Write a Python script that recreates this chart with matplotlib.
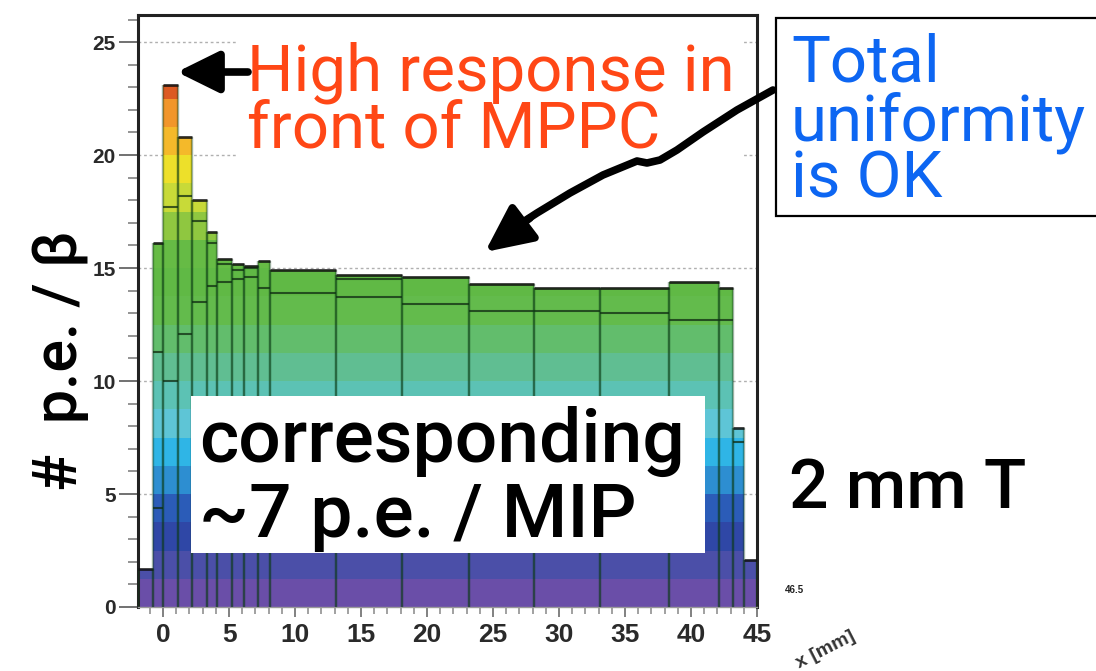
import matplotlib
matplotlib.use('Agg')
import matplotlib.pyplot as plt
from matplotlib.patches import Rectangle, FancyArrowPatch
from matplotlib.lines import Line2D
from matplotlib.ticker import MultipleLocator

# ---------------- data ----------------
bin_edges = [-1.9, -0.8, 0.0, 1.1, 2.2, 3.3, 4.1, 5.2, 6.1, 7.2, 8.1,
             13.1, 18.1, 23.2, 28.1, 33.1, 38.3, 42.1, 43.2, 44.0, 45.0]
bin_tops = [1.7, 16.1, 23.1, 20.8, 18.0, 16.6, 15.4, 15.2, 15.1, 15.3,
            14.9, 14.7, 14.6, 14.3, 14.1, 14.1, 14.4, 14.1, 7.9, 2.1]
inner_levels = [[], [11.3, 4.4], [17.7, 10.0], [18.2, 12.1], [17.1, 13.5],
                [16.1, 14.2], [15.2, 14.4], [14.9, 14.5], [15.0, 14.6], [14.1],
                [13.9], [14.5, 13.7], [13.4], [13.1], [13.1], [13.0], [12.7],
                [12.7], [7.3], []]
x_major_ticks = [0, 5, 10, 15, 20, 25, 30, 35, 40, 45]
y_major_ticks = [0, 5, 10, 15, 20, 25]

# palette bands (height-coloured, like the ROOT lego palette)
band_step = 1.25
band_colors = ['#6a4ea8', '#4b4fa8', '#2f47a6', '#2b5cb8', '#2d8ed1',
               '#2fb5e6', '#5ec5d6', '#5cc2b4', '#60be92', '#62bd6c',
               '#63bb4c', '#60b945', '#66bb45', '#8fc740', '#c8da38',
               '#ede02a', '#f4b92a', '#f1962a', '#dc5a22', '#a8321a']

W, H = 1096, 671
fig = plt.figure(figsize=(W / 100, H / 100), dpi=100)
fig.patch.set_facecolor('white')


def fxy(px, py):
    return px / W, 1 - py / H


ax = fig.add_axes([138 / W, 1 - 607 / H, (757 - 138) / W, (607 - 15) / H])
ax.set_xlim(-1.9, 45)
ax.set_ylim(0, 26.2)

# grid (behind bars)
for yv in y_major_ticks[1:]:
    ax.axhline(yv, color='#b0b0b0', lw=1.0, ls=(0, (2, 2)), zorder=0.5)

# bars, drawn band by band so that the colour follows the height
for i, top in enumerate(bin_tops):
    left = bin_edges[i]
    width = bin_edges[i + 1] - bin_edges[i]
    k = 0
    while k * band_step < top:
        lo = k * band_step
        hi = min(top, (k + 1) * band_step)
        ax.bar(left, hi - lo, width=width, bottom=lo, align='edge',
               color=band_colors[min(k, len(band_colors) - 1)],
               linewidth=0, zorder=2)
        k += 1
    # inner (hidden-row) levels
    for lev in inner_levels[i]:
        ax.hlines(lev, left, left + width, color='#0f2a12', alpha=0.75,
                  lw=1.5, zorder=3)
    # bar outline
    ax.vlines([left, left + width], 0, top, color='#0a3a14', alpha=0.4,
              lw=1.7, zorder=3)
    ax.hlines(top, left, left + width, color='#111111', alpha=0.85,
              lw=2.0, zorder=3)

# axes styling
ax.xaxis.set_major_locator(plt.FixedLocator(x_major_ticks))
ax.xaxis.set_minor_locator(MultipleLocator(1))
ax.yaxis.set_major_locator(plt.FixedLocator(y_major_ticks))
ax.yaxis.set_minor_locator(MultipleLocator(1))
ax.tick_params(axis='y', which='major', direction='out', length=14, width=1.3,
               color='#666666', pad=2)
ax.tick_params(axis='y', which='minor', direction='out', length=7.5, width=1.1,
               color='#777777')
ax.tick_params(axis='x', which='major', direction='out', length=7.5, width=1.3,
               color='#777777', pad=4)
ax.tick_params(axis='x', which='minor', direction='out', length=5, width=1.1,
               color='#888888')
tick_font = dict(family=['Liberation Sans Narrow', 'Liberation Sans', 'DejaVu Sans'],
                 weight='bold', color='#2a2a2a')
for lab in ax.get_xticklabels():
    lab.set_fontsize(19)
    lab.set(**tick_font)
for lab in ax.get_yticklabels():
    lab.set_fontsize(15)
    lab.set(**tick_font)
for side in ['left', 'top', 'right']:
    ax.spines[side].set_color('#222222')
    ax.spines[side].set_linewidth(2.2)
ax.spines['bottom'].set_color('#999999')
ax.spines['bottom'].set_linewidth(1.0)

# tiny labels of the original ROOT frame
fig.text(*fxy(785, 590), '46.5', fontsize=7, weight='bold', color='#222222',
         family=['Liberation Sans', 'DejaVu Sans'], va='center')
fig.text(*fxy(850, 628), 'x [mm]', fontsize=14, weight='bold',
         color='#333333', rotation=27, rotation_mode='anchor',
         ha='right', va='top', family=['Liberation Sans', 'DejaVu Sans'])

# ---------------- overlaid annotations ----------------
big = ['Roboto', 'Noto Sans', 'DejaVu Sans']

# y label
fig.text(*fxy(60, 361), '#  p.e. / β', rotation=90, fontsize=44,
         family=big, weight='medium', ha='center', va='center', color='black')

# red comment
fig.add_artist(Rectangle(fxy(236, 160), (742 - 236) / W, (160 - 38) / H,
                         transform=fig.transFigure, facecolor='white',
                         edgecolor='none', zorder=4))
fig.text(*fxy(247, 91), 'High response in', fontsize=47, family=big,
         color='#ff4716', ha='left', va='baseline', zorder=6)
fig.text(*fxy(247, 148), 'front of MPPC', fontsize=47, family=big,
         color='#ff4716', ha='left', va='baseline', zorder=6)
fig.add_artist(FancyArrowPatch(
    (248, H - 72), (177, H - 72), transform=None,
    arrowstyle='-|>,head_length=0.85,head_width=0.42', mutation_scale=30,
    lw=5.5, color='black', shrinkA=0, shrinkB=0, zorder=6))

# blue box
fig.add_artist(Rectangle(fxy(776, 216), (1110 - 776) / W, (216 - 18) / H,
                         transform=fig.transFigure, facecolor='white',
                         edgecolor='black', lw=1.6, zorder=4))
for txt, yb in [('Total', 82), ('uniformity', 140), ('is OK', 197)]:
    fig.text(*fxy(791, yb), txt, fontsize=47, family=big,
             color='#0d66f2', ha='left', va='baseline', zorder=6)

# curved arrow to the plateau
path_px = [(773, 90), (737, 110), (703, 132), (677, 150), (660, 160),
           (647, 163), (637, 161), (603, 175), (570, 193), (537, 213),
           (520, 224)]
fig.add_artist(Line2D([p[0] for p in path_px], [H - p[1] for p in path_px],
                      transform=None, color='black', lw=5.5,
                      solid_capstyle='round', solid_joinstyle='round', zorder=6))
fig.add_artist(FancyArrowPatch(
    (530, H - 218), (485, H - 252), transform=None,
    arrowstyle='-|>,head_length=0.95,head_width=0.45', mutation_scale=30,
    lw=5.5, color='black', shrinkA=0, shrinkB=0, zorder=6))

# white box with black comment
fig.add_artist(Rectangle(fxy(191, 553), (705 - 191) / W, (553 - 396) / H,
                         transform=fig.transFigure, facecolor='white',
                         edgecolor='none', zorder=4))
fig.text(*fxy(199, 462), 'corresponding', fontsize=54, family=big,
         weight='medium', color='black', ha='left', va='baseline', zorder=6)
fig.text(*fxy(199, 537), '~7 p.e. / MIP', fontsize=54, family=big,
         weight='medium', color='black', ha='left', va='baseline', zorder=6)

# thickness label
fig.text(*fxy(789, 508), '2 mm T', fontsize=50, family=big, weight='medium',
         color='black', ha='left', va='baseline', zorder=6)

fig.savefig('out.png', dpi=100, facecolor='white')
